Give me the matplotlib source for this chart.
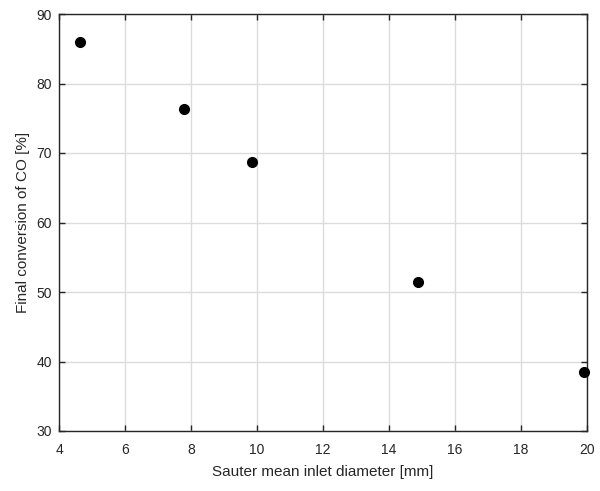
import matplotlib
matplotlib.use("Agg")
import matplotlib.pyplot as plt

diameter = [4.64, 7.79, 9.84, 14.88, 19.9]
conversion = [85.9, 76.3, 68.7, 51.5, 38.5]
xticks = [4, 6, 8, 10, 12, 14, 16, 18, 20]
yticks = [30, 40, 50, 60, 70, 80, 90]

plt.rcParams['font.family'] = ['Liberation Sans', 'DejaVu Sans']
fig = plt.figure(figsize=(6, 4.91), dpi=100)
ax = fig.add_axes([59/600, 60/491, 528/600, 417/491])
ax.plot(diameter, conversion, 'o', color='black', markersize=7, clip_on=False, zorder=5)
ax.set_xlim(4, 20)
ax.set_ylim(30, 90)
ax.set_xticks(xticks)
ax.set_yticks(yticks)
ax.grid(True, color='#dcdcdc', linewidth=1.0)
ax.set_axisbelow(True)
ax.tick_params(direction='in', top=True, right=True, length=4, width=1, labelsize=10, colors='#262626')
ax.tick_params(axis='x', pad=8.5)
ax.tick_params(axis='y', pad=5)
for s in ax.spines.values():
    s.set_color('#262626')
    s.set_linewidth(1.0)
ax.set_xlabel('Sauter mean inlet diameter [mm]', fontsize=11, color='#262626', labelpad=6)
ax.set_ylabel('Final conversion of CO [%]', fontsize=11, color='#262626', labelpad=5)
fig.savefig('out.png', dpi=100)
